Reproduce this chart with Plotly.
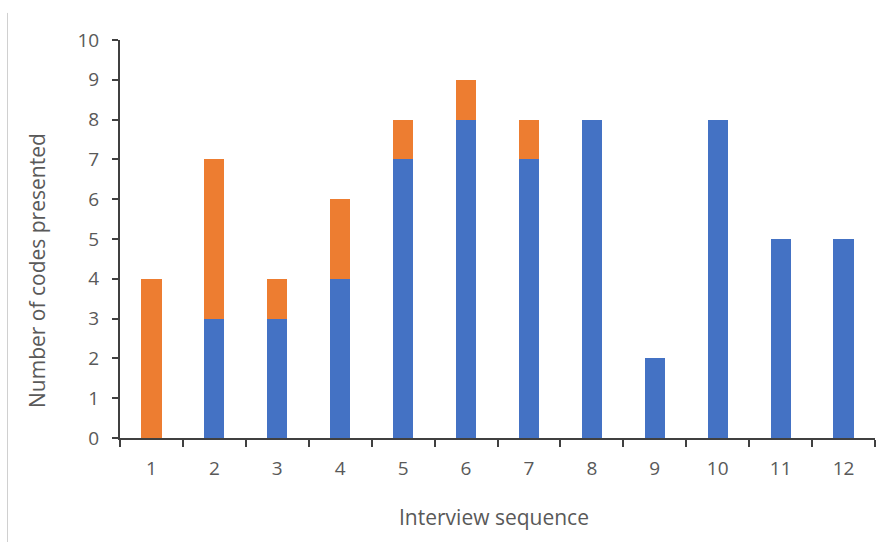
import plotly.graph_objects as go

interviews = ["1", "2", "3", "4", "5", "6", "7", "8", "9", "10", "11", "12"]
existing_codes = [0, 3, 3, 4, 7, 8, 7, 8, 2, 8, 5, 5]
new_codes = [4, 4, 1, 2, 1, 1, 1, 0, 0, 0, 0, 0]

fig = go.Figure()
fig.add_trace(go.Bar(x=interviews, y=existing_codes, marker_color="#4472C4",
                     marker_line_width=0, name="Existing"))
fig.add_trace(go.Bar(x=interviews, y=new_codes, marker_color="#ED7D31",
                     marker_line_width=0, name="New"))

font_family = "Open Sans, Liberation Sans, sans-serif"
title_font = dict(family=font_family, size=21, color="#595959")
fig.update_layout(
    barmode="stack",
    bargap=0.68,
    width=886, height=542,
    margin=dict(l=120, r=11, t=40, b=104),
    plot_bgcolor="white", paper_bgcolor="white",
    showlegend=False,
    font=dict(family=font_family, color="#595959"),
    xaxis=dict(
        type="category",
        range=[-0.5, 11.5],
        tickson="boundaries",
        ticks="outside", ticklen=7, tickwidth=2, tickcolor="#404040",
        showline=True, linecolor="#404040", linewidth=2,
        showgrid=False,
        ticklabelstandoff=12,
        tickfont=dict(size=19, color="#595959"),
    ),
    yaxis=dict(
        range=[0, 10],
        dtick=1,
        ticks="outside", ticklen=6, tickwidth=2, tickcolor="#404040",
        showline=True, linecolor="#404040", linewidth=2,
        showgrid=False, zeroline=False,
        ticklabelstandoff=9,
        tickfont=dict(size=19, color="#595959"),
    ),
)

# axis titles
fig.add_annotation(text="Interview sequence", xref="paper", yref="paper",
                   x=0.495, y=-0.1985, xanchor="center", yanchor="middle",
                   showarrow=False, font=title_font)
fig.add_annotation(text="Number of codes presented", xref="paper", yref="paper",
                   x=-0.11, y=0.422, xanchor="center", yanchor="middle",
                   textangle=-90, showarrow=False, font=title_font)

# thin frame line along the left edge
fig.add_shape(type="line", xref="paper", yref="paper",
              x0=-0.149, x1=-0.149, y0=1.068, y1=-0.27,
              line=dict(color="#d0d0d0", width=1))

fig.write_html("out.html")
